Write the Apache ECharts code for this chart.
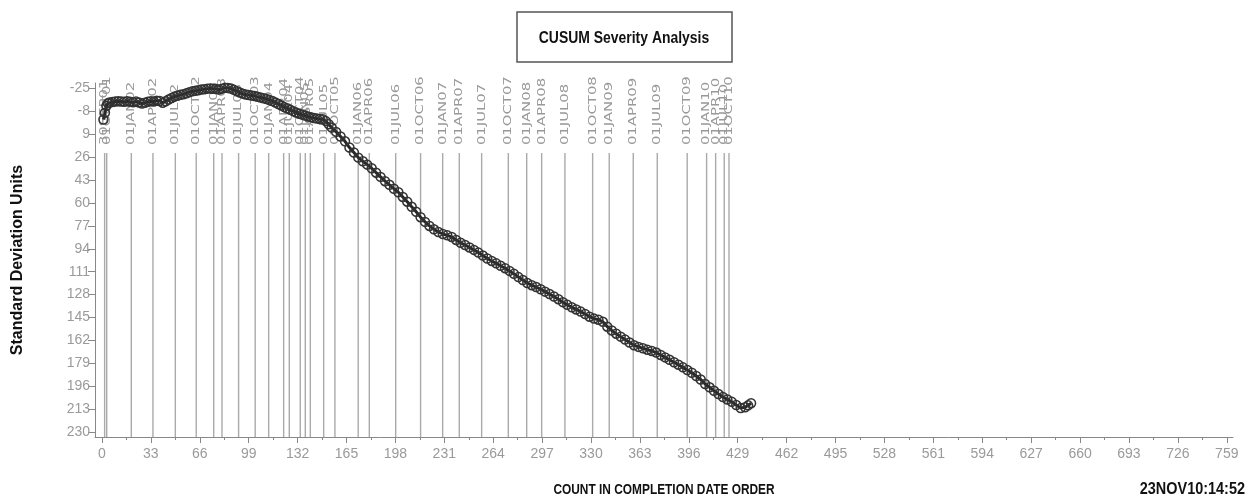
<!DOCTYPE html>
<html>
<head>
<meta charset="utf-8">
<script src="https://cdn.jsdelivr.net/npm/echarts@6/dist/echarts.min.js"></script>
<style>
html,body{margin:0;padding:0;background:#fff;}
#chart{width:1246px;height:497px;}
</style>
</head>
<body>
<div id="chart"></div>
<script>
// ---- data ----
const counts = [1,2,3,4,5,7,9,11,13,15,17,19,21,23,25,27,29,31,33,35,37,39,41,43,45,47,49,51,53,55,57,59,61,63,65,67,69,71,73,75,77,79,81,83,85,87,89,91,93,95,97,99,101,103,105,107,109,111,113,115,117,119,121,123,125,127,129,131,133,135,137,139,141,143,145,147,149,151,153,155,158,161,164,167,170,173,176,179,182,185,188,191,194,197,200,203,206,209,212,215,218,221,224,227,230,233,236,239,242,245,248,251,254,257,260,263,266,269,272,275,278,281,284,287,290,293,296,299,302,305,308,311,314,317,320,323,326,329,332,335,338,341,344,347,350,353,356,359,362,365,368,371,374,377,380,383,386,389,392,395,398,401,404,407,410,413,416,419,422,425,428,431,434,436,438];
const cusum = [-2,-7,-12,-14,-14.6,-15,-15.3,-15.6,-15.4,-15.2,-15.6,-15.1,-14.8,-15.3,-14.6,-13.8,-14.5,-15.2,-15.6,-15.4,-16,-15.8,-14.5,-15.5,-16.8,-18,-19,-19.6,-20.3,-20.8,-21.5,-22.3,-22.9,-23.3,-23.7,-24.2,-24.5,-24.9,-25,-24.8,-24.6,-24.3,-24.9,-25.5,-25.4,-25,-24,-23,-22,-21.2,-20.6,-20.2,-19.8,-19.4,-18.8,-18.4,-17.8,-17.2,-16.4,-15.7,-14.6,-13.5,-12.4,-11.2,-10.3,-9.2,-8.2,-7.2,-6.3,-5.6,-4.9,-4.2,-3.6,-3.1,-2.7,-2.4,-2.1,-0.8,1.5,4,7.2,10.6,14.2,18.8,22.5,26.3,29,31.5,34.2,37.5,40.6,43.8,46.5,49.4,52,55.5,59,62.8,66.5,70.5,74,77,79.5,81.5,83,84,85.2,87.4,89.5,91.2,93,94.8,96.8,99,101.2,103,104.8,106.6,108.4,110.4,112.6,115,117.2,119.4,121,122.4,124,125.8,127.6,129.4,131.4,133.6,135.6,137.4,139,140.6,142.4,144.4,145.8,146.6,148.2,151.8,154.6,157,159.2,161.4,163.6,165.6,166.8,167.8,168.9,169.8,171,172.8,174.6,176.4,178.2,180,182,184,186,188.4,191,194.4,196.8,199.4,201.8,204,205.8,207.6,210,212.2,211.6,210.2,208.6];
const refDates = ['30SEP01','01OCT01','01JAN02','01APR02','01JUL02','01OCT02','01JAN03','01APR03','01JUL03','01OCT03','01JAN04','01APR04','01JUL04','01OCT04','01JAN05','01APR05','01JUL05','01OCT05','01JAN06','01APR06','01JUL06','01OCT06','01JAN07','01APR07','01JUL07','01OCT07','01JAN08','01APR08','01JUL08','01OCT08','01JAN09','01APR09','01JUL09','01OCT09','01JAN10','01APR10','01JUL10','01OCT10'];
const refCounts = [1.8,3.2,19.8,34.4,49.5,63.6,75.4,81,92.2,103.4,112.5,122.6,126.4,133.8,137.2,140.6,149.6,157.2,172.9,180.4,198.2,215,229.9,241.1,256.2,274.2,286.6,296.7,312.4,331.1,342.3,358.5,374.7,394.9,408,414.1,419.9,423.1];
const xTicks = [0,33,66,99,132,165,198,231,264,297,330,363,396,429,462,495,528,561,594,627,660,693,726,759];
const xMinorTicks = [16.5,49.5,82.5,115.5,148.5,181.5,214.5,247.5,280.5,313.5,346.5,379.5,412.5,445.5,478.5,511.5,544.5,577.5,610.5,643.5,676.5,709.5,742.5];
const yTicks = [-25,-8,9,26,43,60,77,94,111,128,145,162,179,196,213,230];
const titleText = 'CUSUM Severity Analysis';
const xTitle = 'COUNT IN COMPLETION DATE ORDER';
const yTitle = 'Standard Deviation Units';
const stampText = '23NOV10:14:52';

// ---- chart ----
const X_MIN = -4.7, X_MAX = 763.2, Y_MIN = -29.1, Y_MAX = 233.7;
const REF_LINE_TOP = 22.9;   // data value where reference lines start
const REF_LABEL_BASE = 17;   // data value where the rotated labels start
const sans = '"Liberation Sans", Arial, sans-serif';

const chart = echarts.init(document.getElementById('chart'), null, {renderer: 'canvas'});
const lineData = counts.map((c, i) => [c, cusum[i]]);
const refData = refCounts.map((c, i) => [c, refDates[i]]);

chart.setOption({
  animation: false,
  backgroundColor: '#fff',
  grid: {left: 95, right: 13, top: 83, bottom: 60, containLabel: false},
  xAxis: [{
    type: 'value', min: X_MIN, max: X_MAX,
    splitLine: {show: false},
    axisLine: {show: true, onZero: false, lineStyle: {color: '#888', width: 1}},
    axisTick: {show: true, length: 6, customValues: xTicks, lineStyle: {color: '#888'}},
    axisLabel: {customValues: xTicks, color: '#9a9a9a', fontFamily: sans, fontSize: 14, margin: 10}
  }, {
    type: 'value', min: X_MIN, max: X_MAX, position: 'bottom',
    splitLine: {show: false},
    axisLine: {show: false, onZero: false},
    axisTick: {show: true, length: 3, customValues: xMinorTicks, lineStyle: {color: '#888'}},
    axisLabel: {show: false}
  }],
  yAxis: {
    type: 'value', inverse: true, min: Y_MIN, max: Y_MAX,
    splitLine: {show: false},
    axisLine: {show: true, onZero: false, lineStyle: {color: '#888', width: 1}},
    axisTick: {show: true, length: 7, customValues: yTicks, lineStyle: {color: '#888'}},
    axisLabel: {customValues: yTicks, color: '#9a9a9a', fontFamily: sans, fontSize: 14, margin: 5}
  },
  series: [{
    type: 'custom',
    coordinateSystem: 'cartesian2d',
    clip: false,
    silent: true,
    data: refData,
    encode: {x: 0},
    renderItem: function (params, api) {
      const x = api.value(0);
      const p1 = api.coord([x, REF_LINE_TOP]);
      const p2 = api.coord([x, Y_MAX]);
      const pl = api.coord([x, REF_LABEL_BASE]);
      return {
        type: 'group',
        children: [{
          type: 'line',
          shape: {x1: p1[0], y1: p1[1], x2: p2[0], y2: p2[1]},
          style: {stroke: '#aaa', lineWidth: 1.4}
        }, {
          type: 'text',
          x: pl[0], y: pl[1],
          rotation: Math.PI / 2,
          scaleX: 1.35,
          style: {
            text: refData[params.dataIndex][1],
            fill: '#999',
            font: '11px "DejaVu Sans", sans-serif',
            align: 'left', verticalAlign: 'middle'
          }
        }]
      };
    }
  }, {
    type: 'line',
    data: lineData,
    showAllSymbol: true,
    symbol: 'circle',
    symbolSize: 9,
    lineStyle: {color: '#262626', width: 3},
    itemStyle: {color: 'rgba(255,255,255,0)', borderColor: '#333', borderWidth: 1.5},
    z: 5
  }],
  graphic: [{
    type: 'rect',
    shape: {x: 517, y: 12, width: 215, height: 50},
    style: {fill: '#fff', stroke: '#555', lineWidth: 1.5}
  }, {
    type: 'text',
    x: 624, y: 38, scaleX: 0.82,
    style: {text: titleText, fill: '#111', font: 'bold 17px ' + sans, align: 'center', verticalAlign: 'middle'}
  }, {
    type: 'text',
    x: 18, y: 260,
    rotation: Math.PI / 2, scaleX: 1.0,
    style: {text: yTitle, fill: '#111', font: 'bold 16px ' + sans, align: 'center', verticalAlign: 'middle'}
  }, {
    type: 'text',
    x: 664, y: 490, scaleX: 0.85,
    style: {text: xTitle, fill: '#111', font: 'bold 14px ' + sans, align: 'center', verticalAlign: 'middle'}
  }, {
    type: 'text',
    x: 1245, y: 489, scaleX: 0.85,
    style: {text: stampText, fill: '#111', font: 'bold 17px ' + sans, align: 'right', verticalAlign: 'middle'}
  }]
});
</script>
</body>
</html>
